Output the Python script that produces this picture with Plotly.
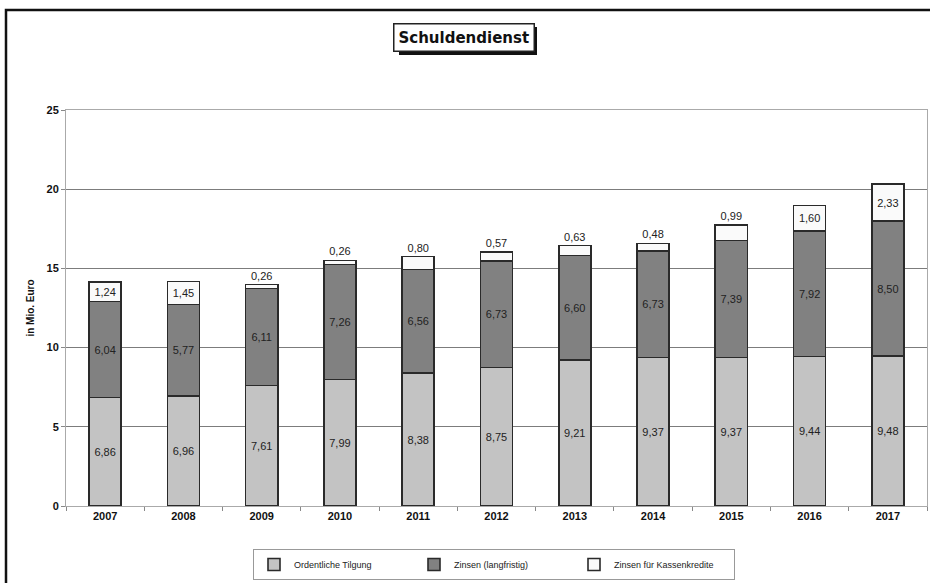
import plotly.graph_objects as go

years = ["2007", "2008", "2009", "2010", "2011", "2012", "2013", "2014", "2015", "2016", "2017"]
tilgung = [6.86, 6.96, 7.61, 7.99, 8.38, 8.75, 9.21, 9.37, 9.37, 9.44, 9.48]
zinsen = [6.04, 5.77, 6.11, 7.26, 6.56, 6.73, 6.60, 6.73, 7.39, 7.92, 8.50]
kassen = [1.24, 1.45, 0.26, 0.26, 0.80, 0.57, 0.63, 0.48, 0.99, 1.60, 2.33]
y_ticks = [0, 5, 10, 15, 20, 25]

def fmt(v):
    return f"{v:.2f}".replace(".", ",")

FONT = "Liberation Sans, Arial, sans-serif"
outline = dict(color="#2a2a2a", width=1.6)

fig = go.Figure()
fig.add_trace(go.Bar(
    x=years, y=tilgung, name="Ordentliche Tilgung",
    marker=dict(color="#c3c3c3", line=outline),
    text=[fmt(v) for v in tilgung], textposition="inside", insidetextanchor="middle",
    textfont=dict(size=11, color="#222", family=FONT), textangle=0,
))
fig.add_trace(go.Bar(
    x=years, y=zinsen, name="Zinsen (langfristig)",
    marker=dict(color="#818181", line=outline),
    text=[fmt(v) for v in zinsen], textposition="inside", insidetextanchor="middle",
    textfont=dict(size=11, color="#222", family=FONT), textangle=0,
))
fig.add_trace(go.Bar(
    x=years, y=kassen, name="Zinsen für Kassenkredite",
    marker=dict(color="#fafafa", line=outline),
    text=[fmt(v) for v in kassen],
    textposition=["inside" if v >= 1.2 else "outside" for v in kassen],
    insidetextanchor="middle",
    textfont=dict(size=11, color="#222", family=FONT), textangle=0,
    cliponaxis=False,
))

L, R, T, B = 66, 3, 110, 77
W, H = 930, 583
pw, ph = W - L - R, H - T - B

def px(x):
    return (x - L) / pw

def py(y):
    return (H - B - y) / ph

shapes = [
    # outer frame
    dict(type="rect", xref="paper", yref="paper", x0=px(6), x1=px(1000), y0=py(10), y1=py(700),
         line=dict(color="#111", width=2.5), layer="below"),
    # title shadow
    dict(type="rect", xref="paper", yref="paper", x0=px(399), x1=px(537), y0=py(55), y1=py(27),
         fillcolor="#111", line=dict(width=0), layer="above"),
]

fig.update_layout(
    width=W, height=H,
    margin=dict(l=L, r=R, t=T, b=B),
    barmode="stack", bargap=0.59,
    plot_bgcolor="white", paper_bgcolor="white",
    font=dict(family=FONT, color="#111"),
    shapes=shapes,
    annotations=[
        dict(text="<b>Schuldendienst</b>", xref="paper", yref="paper",
             x=px(464), y=py(37), xanchor="center", yanchor="middle", showarrow=False,
             font=dict(size=15, family="DejaVu Sans, sans-serif", color="#111"),
             bgcolor="white", bordercolor="#222", borderwidth=1.5, borderpad=4),
    ],
    xaxis=dict(
        showline=True, linecolor="#aaaaaa", linewidth=1, mirror=True,
        ticks="outside", tickson="boundaries", ticklen=4, tickcolor="#888",
        tickfont=dict(size=11, color="#111", family=FONT, weight="bold"),
        showgrid=False,
    ),
    yaxis=dict(
        range=[0, 25], tickvals=y_ticks,
        showline=True, linecolor="#aaaaaa", linewidth=1, mirror=True,
        ticks="outside", ticklen=4, tickcolor="#888",
        tickfont=dict(size=11, color="#111", family=FONT, weight="bold"),
        gridcolor="#7c7c7c", gridwidth=1.2, zeroline=False,
        title=dict(text="<b>in Mio. Euro</b>", font=dict(size=10, family=FONT), standoff=10),
    ),
    legend=dict(
        orientation="h", x=px(253), y=py(549), xanchor="left", yanchor="top",
        bordercolor="#999", borderwidth=1, bgcolor="white",
        font=dict(size=9, family=FONT, color="#222"),
        entrywidth=115, itemwidth=30, traceorder="normal",
    ),
    showlegend=True,
)

fig.write_html("out.html")
